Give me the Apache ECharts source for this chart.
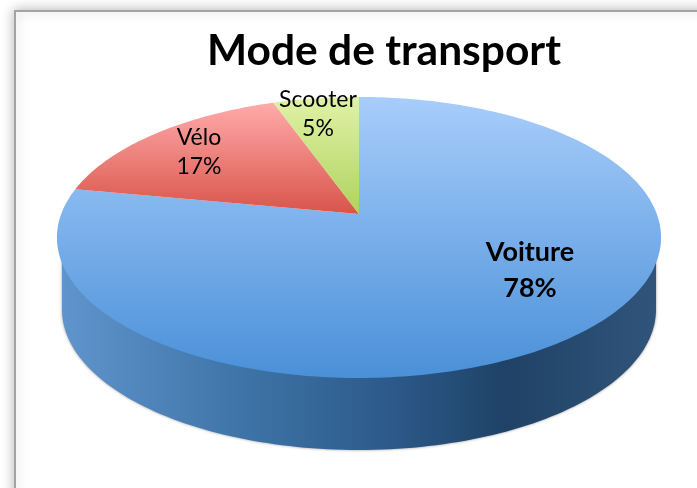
<!DOCTYPE html>
<html><head><meta charset="utf-8">
<style>html,body{margin:0;padding:0;background:#fff}#c{width:697px;height:488px}</style>
<script src="https://cdn.jsdelivr.net/npm/echarts@6/dist/echarts.min.js"></script>
</head><body><div id="c"></div>
<script>
const categories = ['Voiture', 'Vélo', 'Scooter'];
const values = [78, 16.6, 5.4];
const chartTitle = 'Mode de transport';

// layout only
const apex = [359, 214], view = { f: 297.8, g: 136.6, k: 0.167 };
const depth = 72, wallCenterY = 237.5, wallRx = 297, wallRy = 140.5;
const labelAt = [[530, 270], [199, 152], [318, 114]];
const labelBold = [true, false, false];
const faceStops = [
  ['#a8cdfb', '#4a90d8'],
  ['#ffabab', '#d9544a'],
  ['#e0f2a6', '#aed35f']
];
const total = values.reduce((a, b) => a + b, 0);

function project(frac) {
  const t = frac * 2 * Math.PI, X = Math.sin(t), Y = Math.cos(t), d = 1 + view.k * Y;
  return [apex[0] + view.f * X / d, apex[1] - view.g * Y / d];
}
function wallPoints() {
  const pts = [];
  for (let i = 0; i <= 120; i++) {
    const a = Math.PI * i / 120;
    pts.push([apex[0] - wallRx * Math.cos(a), wallCenterY + depth + wallRy * Math.sin(a)]);
  }
  pts.push([apex[0] + wallRx, wallCenterY], [apex[0] - wallRx, wallCenterY]);
  return pts;
}
function renderItem(params, api) {
  const i = params.dataIndex;
  let before = 0;
  for (let j = 0; j < i; j++) before += values[j];
  const v = api.value(0);
  const start = before / total, end = (before + v) / total;
  const pts = [apex.slice()];
  const n = Math.max(8, Math.round((end - start) * 360));
  for (let s = 0; s <= n; s++) pts.push(project(start + (end - start) * s / n));
  const children = [];
  if (i === 0) {
    children.push({
      type: 'polygon', shape: { points: wallPoints() },
      style: {
        fill: new echarts.graphic.LinearGradient(0, 0, 1, 0, [
          { offset: 0, color: '#5f95cc' },
          { offset: 0.3, color: '#3f74a8' },
          { offset: 0.55, color: '#2c5a8a' },
          { offset: 0.75, color: '#1f4266' },
          { offset: 1, color: '#31557a' }
        ]),
        shadowBlur: 3, shadowColor: 'rgba(60,60,60,0.55)'
      }
    });
  }
  children.push({
    type: 'polygon', shape: { points: pts },
    style: {
      fill: new echarts.graphic.LinearGradient(0, 0, 0, 1, [
        { offset: 0, color: faceStops[i][0] },
        { offset: 1, color: faceStops[i][1] }
      ])
    }
  });
  return { type: 'group', children };
}
const labelElements = categories.map((name, i) => ({
  type: 'text', z: 50, x: labelAt[i][0], y: labelAt[i][1],
  style: {
    text: name + '\n' + Math.round(values[i] / total * 100) + '%',
    font: (labelBold[i] ? 'bold 27px' : '23px') + ' Lato, sans-serif',
    fill: '#000', align: 'center', verticalAlign: 'middle',
    lineHeight: labelBold[i] ? 36 : 29
  }
}));
const chart = echarts.init(document.getElementById('c'), null, { renderer: 'canvas' });
chart.setOption({
  animation: false,
  backgroundColor: '#fff',
  title: {
    text: chartTitle, left: 379, top: 25, textAlign: 'center', z: 60,
    textStyle: { fontFamily: 'Lato, sans-serif', fontWeight: 'bold', fontSize: 42.5, color: '#000' }
  },
  graphic: [{
    type: 'rect', z: -10, shape: { x: 15, y: 11, width: 900, height: 700 },
    style: { fill: '#fff', stroke: '#a3a3a3', lineWidth: 2, shadowBlur: 12, shadowColor: 'rgba(0,0,0,0.28)' }
  }].concat(labelElements),
  series: [{
    type: 'custom', coordinateSystem: 'none', renderItem, z: 5,
    data: values.map((v, i) => ({ name: categories[i], value: [v] }))
  }]
});
</script></body></html>
